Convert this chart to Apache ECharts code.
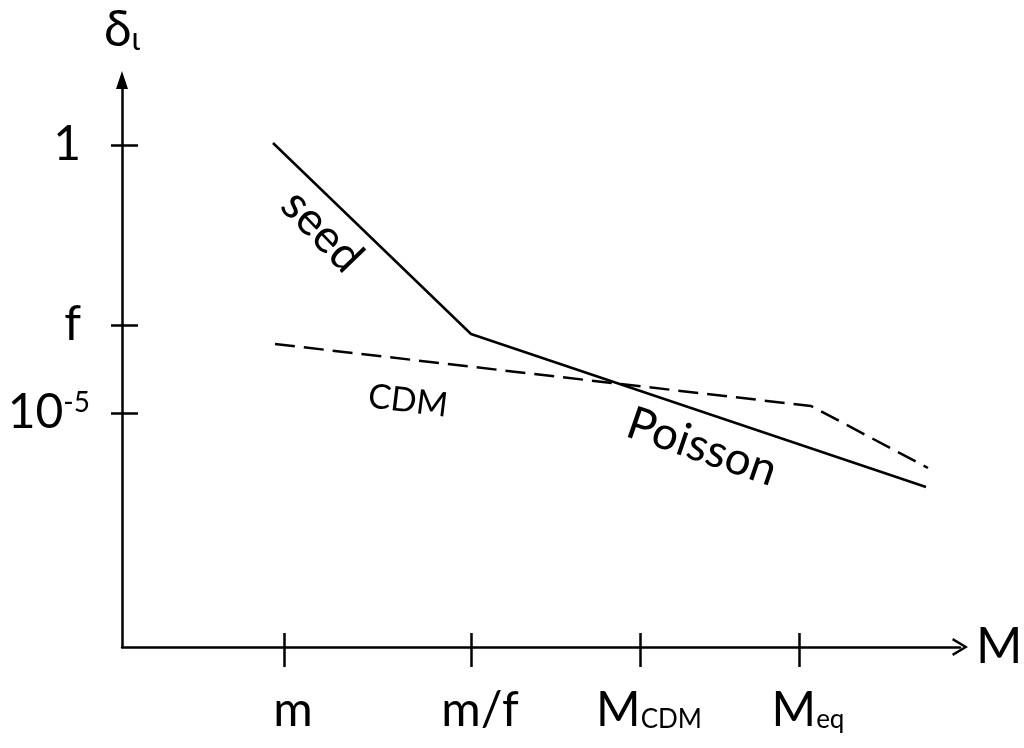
<!DOCTYPE html>
<html>
<head>
<meta charset="utf-8">
<script src="https://cdn.jsdelivr.net/npm/echarts@6/dist/echarts.min.js"></script>
<style>
  html, body { margin: 0; padding: 0; background: #fff; }
  #chart { width: 1024px; height: 748px; }
</style>
</head>
<body>
<div id="chart"></div>
<script>
// axis ticks (abstract log-scale units)
const xTickValues = [16.2, 34.9, 51.8, 67.7];
const xTickLabels = ['m', 'm/f', 'M{sub|CDM}', 'M{sub|eq}'];
const yTickValues = [50.2, 32.2, 23.4];
const yTickLabels = ['{pad|1}', '{pad|f}', '10{sup|-5}'];

// seed -> Poisson (solid)
const solidX = [15.1, 34.9, 80.4];
const solidY = [50.4, 31.3, 16.0];
// CDM (dashed)
const dashX = [15.3, 68.9, 80.6];
const dashY = [30.3, 24.1, 17.9];

// text notes on the plot
const noteText = ['seed', 'CDM', 'Poisson'];
const noteX = [20.0, 28.6, 58.0];
const noteY = [41.6, 24.6, 20.0];
const noteAngle = [-46, -7, -19];
const noteSize = [46, 34, 46];

const FONT = 'Lato';

const chart = echarts.init(document.getElementById('chart'));

const zip = (xs, ys) => xs.map((x, i) => [x, ys[i]]);
const xLabelMap = {};
xTickValues.forEach((v, i) => { xLabelMap[v] = xTickLabels[i]; });
const yLabelMap = {};
yTickValues.forEach((v, i) => { yLabelMap[v] = yTickLabels[i]; });

const chevron = 'path://M0,10L6,0L12,10L10.6,10.8L6,3L1.4,10.8Z';

const option = {
    animation: false,
    backgroundColor: '#fff',
    grid: { left: 122, right: 64, top: 80, bottom: 101, containLabel: false, outerBoundsMode: 'none' },
    xAxis: [
        {
            type: 'value',
            min: 0,
            max: 83.8,
            position: 'bottom',
            name: 'M',
            nameLocation: 'end',
            nameGap: 16,
            nameTextStyle: { fontFamily: FONT, fontSize: 50, color: '#000', verticalAlign: 'middle' },
            axisLine: {
                show: true,
                symbol: ['none', chevron],
                symbolSize: [20, 16],
                lineStyle: { color: '#000', width: 2.5 }
            },
            axisTick: { show: true, customValues: xTickValues, length: 20, lineStyle: { color: '#000', width: 2.5 } },
            axisLabel: {
                show: true,
                customValues: xTickValues,
                margin: 40,
                padding: [0, 0, 0, 18],
                color: '#000',
                fontFamily: FONT,
                fontSize: 48,
                formatter: v => xLabelMap[v] || '',
                rich: {
                    sub: { fontFamily: FONT, fontSize: 26, color: '#000', padding: [18, 0, 0, 0] }
                }
            },
            splitLine: { show: false }
        },
        {
            type: 'value',
            min: 0,
            max: 83.8,
            position: 'bottom',
            axisLine: { show: false },
            axisTick: { show: true, inside: true, customValues: xTickValues, length: 14, lineStyle: { color: '#000', width: 2.5 } },
            axisLabel: { show: false },
            splitLine: { show: false }
        }
    ],
    yAxis: [
        {
            type: 'value',
            min: 0,
            max: 56.7,
            position: 'left',
            name: '{d|δ}{i|ι}',
            nameLocation: 'end',
            nameGap: 24,
            nameTextStyle: {
                color: '#000',
                rich: {
                    d: { fontFamily: FONT, fontSize: 50, color: '#000' },
                    i: { fontFamily: FONT, fontSize: 32, color: '#000', padding: [20, 0, 0, 0] }
                }
            },
            axisLine: {
                show: true,
                symbol: ['none', 'triangle'],
                symbolSize: [12, 18],
                lineStyle: { color: '#000', width: 2.5 }
            },
            axisTick: { show: true, customValues: yTickValues, length: 11, lineStyle: { color: '#000', width: 2.5 } },
            axisLabel: {
                show: true,
                customValues: yTickValues,
                margin: 32,
                color: '#000',
                fontFamily: FONT,
                fontSize: 48,
                formatter: v => yLabelMap[v] || '',
                rich: {
                    pad: { fontFamily: FONT, fontSize: 48, color: '#000', padding: [0, 9, 0, 0] },
                    sup: { fontFamily: FONT, fontSize: 28, color: '#000', padding: [0, 0, 20, 0] }
                }
            },
            splitLine: { show: false }
        },
        {
            type: 'value',
            min: 0,
            max: 56.7,
            position: 'left',
            axisLine: { show: false },
            axisTick: { show: true, inside: true, customValues: yTickValues, length: 16, lineStyle: { color: '#000', width: 2.5 } },
            axisLabel: { show: false },
            splitLine: { show: false }
        }
    ],
    series: [
        {
            name: 'seed / Poisson',
            type: 'line',
            data: zip(solidX, solidY),
            showSymbol: false,
            lineStyle: { color: '#000', width: 2.5 }
        },
        {
            name: 'CDM',
            type: 'line',
            data: zip(dashX, dashY),
            showSymbol: false,
            lineStyle: { color: '#000', width: 2.5, type: [20, 9] }
        },
        {
            name: 'notes',
            type: 'scatter',
            symbolSize: 0,
            itemStyle: { opacity: 1, color: '#000' },
            label: { show: true, position: 'inside', color: '#000', fontFamily: FONT },
            data: noteText.map((t, i) => ({
                value: [noteX[i], noteY[i]],
                label: {
                    show: true,
                    position: 'inside',
                    formatter: t,
                    rotate: noteAngle[i],
                    fontFamily: FONT,
                    fontSize: noteSize[i],
                    color: '#000',
                    opacity: 1
                }
            }))
        }
    ]
};

chart.setOption(option);
</script>
</body>
</html>
